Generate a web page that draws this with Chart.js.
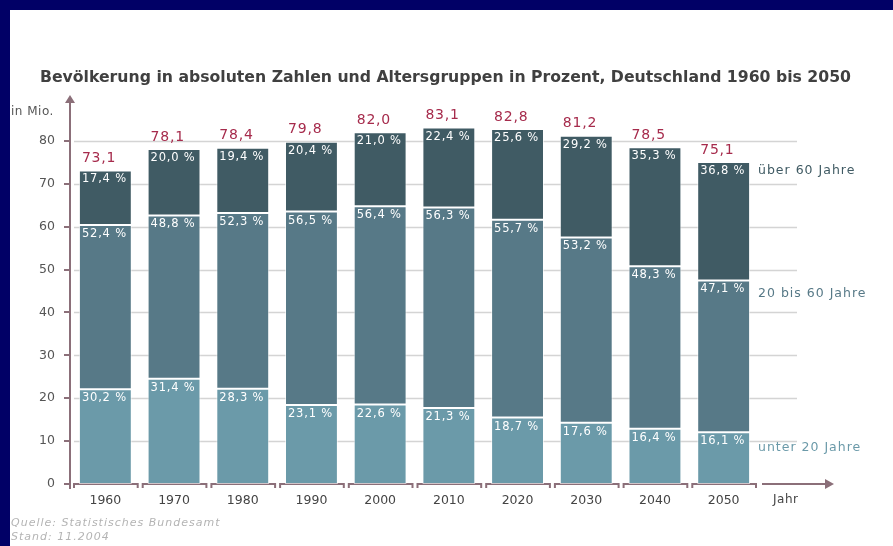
<!DOCTYPE html>
<html>
<head>
<meta charset="utf-8">
<script src="https://cdn.jsdelivr.net/npm/chart.js@4.4.1/dist/chart.umd.min.js"></script>
<style>
  html, body { margin: 0; padding: 0; background: #010066; }
  body { width: 893px; height: 546px; overflow: hidden; position: relative; }
  #wrap { position: absolute; left: 10px; top: 10px; width: 883px; height: 536px; background: #fff; }
</style>
</head>
<body>
<div id="wrap"><canvas id="chart" width="883" height="536"></canvas></div>
<script>
// data
const years = ['1960', '1970', '1980', '1990', '2000', '2010', '2020', '2030', '2040', '2050'];
const totals = [73.1, 78.1, 78.4, 79.8, 82.0, 83.1, 82.8, 81.2, 78.5, 75.1];
const pctUnder20 = [30.2, 31.4, 28.3, 23.1, 22.6, 21.3, 18.7, 17.6, 16.4, 16.1];
const pct20to60 = [52.4, 48.8, 52.3, 56.5, 56.4, 56.3, 55.7, 53.2, 48.3, 47.1];
const pctOver60 = [17.4, 20.0, 19.4, 20.4, 21.0, 22.4, 25.6, 29.2, 35.3, 36.8];
// same shares in millions (total x share)
const mioUnder20 = [22.08, 24.52, 22.19, 18.43, 18.53, 17.70, 15.48, 14.29, 12.87, 12.09];
const mio20to60 = [38.30, 38.11, 41.00, 45.09, 46.25, 46.79, 46.12, 43.20, 37.92, 35.37];
const mioOver60 = [12.72, 15.47, 15.21, 16.28, 17.22, 18.61, 21.20, 23.71, 27.71, 27.64];
const yTicks = [0, 10, 20, 30, 40, 50, 60, 70, 80];
const groupNames = ['unter 20 Jahre', '20 bis 60 Jahre', 'über 60 Jahre'];

const colors = ['#6b9aa9', '#577987', '#405b64'];
const textColors = ['#6b9aa9', '#577987', '#3f5a63'];
const axisColor = '#8b6f79';
const red = '#a62b4c';

const fmt = v => v.toFixed(1).replace('.', ',');

const deco = {
  id: 'deco',
  beforeDatasetsDraw(chart) {
    const { ctx, chartArea: ca, scales: { x, y } } = chart;
    ctx.save();
    // gridlines
    ctx.strokeStyle = '#d4d4d4';
    ctx.lineWidth = 1.5;
    yTicks.filter(v => v > 0).forEach(v => {
      const py = Math.round(y.getPixelForValue(v)) + 0.5;
      ctx.beginPath();
      ctx.moveTo(ca.left + 3, py);
      ctx.lineTo(ca.right + 39, py);
      ctx.stroke();
    });
    // y axis
    ctx.strokeStyle = axisColor;
    ctx.fillStyle = axisColor;
    ctx.lineWidth = 2;
    const ax = ca.left - 1;
    const y0 = y.getPixelForValue(0);
    ctx.beginPath();
    ctx.moveTo(ax, y0 + 5);
    ctx.lineTo(ax, 92);
    ctx.stroke();
    yTicks.forEach(v => {
      const py = Math.round(y.getPixelForValue(v));
      ctx.beginPath();
      ctx.moveTo(ax - 6, py);
      ctx.lineTo(ax, py);
      ctx.stroke();
    });
    ctx.beginPath();
    ctx.moveTo(ax, 85);
    ctx.lineTo(ax - 5, 93);
    ctx.lineTo(ax + 5, 93);
    ctx.closePath();
    ctx.fill();
    // x axis brackets
    const step = (ca.right - ca.left) / years.length;
    years.forEach((yr, i) => {
      const cx = x.getPixelForValue(i);
      const l = cx - step / 2 + 3, r = cx + step / 2 - 2;
      ctx.beginPath();
      ctx.moveTo(l, y0 + 4);
      ctx.lineTo(l, y0);
      ctx.lineTo(r, y0);
      ctx.lineTo(r, y0 + 4);
      ctx.stroke();
    });
    ctx.beginPath();
    ctx.moveTo(ca.right + 4, y0);
    ctx.lineTo(ca.right + 68, y0);
    ctx.stroke();
    ctx.beginPath();
    ctx.moveTo(ca.right + 76, y0);
    ctx.lineTo(ca.right + 67, y0 - 5);
    ctx.lineTo(ca.right + 67, y0 + 5);
    ctx.closePath();
    ctx.fill();
    ctx.restore();
  },
  afterDatasetsDraw(chart) {
    const { ctx, chartArea: ca } = chart;
    const pcts = [pctUnder20, pct20to60, pctOver60];
    ctx.save();
    ctx.textBaseline = 'middle';
    ctx.textAlign = 'left';
    // percentages inside segments
    ctx.font = '11.5px "DejaVu Sans"';
    ctx.letterSpacing = '0.8px';
    ctx.fillStyle = '#ffffff';
    pcts.forEach((arr, d) => {
      chart.getDatasetMeta(d).data.forEach((bar, i) => {
        ctx.fillText(fmt(arr[i]) + ' %', bar.x - bar.width / 2 + 3, bar.y + 9);
      });
    });
    // totals above bars
    ctx.font = '14px "DejaVu Sans"';
    ctx.letterSpacing = '0.8px';
    ctx.fillStyle = red;
    chart.getDatasetMeta(2).data.forEach((bar, i) => {
      ctx.fillText(fmt(totals[i]), bar.x - bar.width / 2 + 3, bar.y - 12);
    });
    // group labels on the right
    ctx.font = '12.5px "DejaVu Sans"';
    ctx.letterSpacing = '1px';
    const offs = [16, 13, 9];
    groupNames.forEach((name, d) => {
      const meta = chart.getDatasetMeta(d).data;
      const bar = meta[meta.length - 1];
      ctx.fillStyle = textColors[d];
      ctx.fillText(name, ca.right, bar.y + offs[d]);
    });
    ctx.restore();
  },
  afterDraw(chart) {
    const { ctx, chartArea: ca } = chart;
    ctx.save();
    ctx.textBaseline = 'middle';
    ctx.textAlign = 'left';
    // title
    const title = 'Bevölkerung in absoluten Zahlen und Altersgruppen in Prozent, Deutschland 1960 bis 2050';
    ctx.font = 'bold 16px "DejaVu Sans"';
    ctx.fillStyle = '#404040';
    const w = ctx.measureText(title).width;
    ctx.translate(30, 68);
    ctx.scale(811 / w, 1);
    ctx.fillText(title, 0, 0);
    ctx.setTransform(1, 0, 0, 1, 0, 0);
    // unit and axis names
    ctx.font = '12px "DejaVu Sans"';
    ctx.letterSpacing = '0.5px';
    ctx.fillStyle = '#555555';
    ctx.fillText('in Mio.', 1, 102);
    ctx.fillStyle = '#444444';
    ctx.fillText('Jahr', ca.right + 15, 490);
    // source
    ctx.font = 'oblique 11px "DejaVu Sans"';
    ctx.letterSpacing = '1px';
    ctx.fillStyle = '#b4b4b4';
    ctx.fillText('Quelle: Statistisches Bundesamt', 1, 513);
    ctx.fillText('Stand: 11.2004', 1, 527);
    ctx.restore();
  }
};

const mkSet = (label, data, i) => ({
  label, data,
  backgroundColor: colors[i],
  borderColor: 'rgba(255,255,255,0.6)',
  borderWidth: 1,
  borderSkipped: false,
  barPercentage: 0.77,
  categoryPercentage: 1
});

new Chart(document.getElementById('chart'), {
  type: 'bar',
  data: {
    labels: years,
    datasets: [
      mkSet(groupNames[0], mioUnder20, 0),
      mkSet(groupNames[1], mio20to60, 1),
      mkSet(groupNames[2], mioOver60, 2)
    ]
  },
  options: {
    responsive: false,
    devicePixelRatio: 1,
    animation: false,
    layout: { padding: { left: 0, right: 135, top: 88, bottom: 22 } },
    plugins: { legend: { display: false }, tooltip: { enabled: false }, title: { display: false } },
    scales: {
      x: {
        stacked: true,
        grid: { display: false, drawTicks: false },
        border: { display: false },
        ticks: { color: '#444444', font: { family: 'DejaVu Sans', size: 12.5 }, padding: 9, maxRotation: 0 },
        afterFit: s => { s.height = 40; }
      },
      y: {
        stacked: true,
        min: 0,
        max: 90,
        grid: { display: false, drawTicks: false },
        border: { display: false },
        afterBuildTicks: s => { s.ticks = yTicks.map(v => ({ value: v })); },
        ticks: { color: '#555555', font: { family: 'DejaVu Sans', size: 12.5 }, padding: 16 },
        afterFit: s => { s.width = 61; }
      }
    }
  },
  plugins: [deco]
});
</script>
</body>
</html>
